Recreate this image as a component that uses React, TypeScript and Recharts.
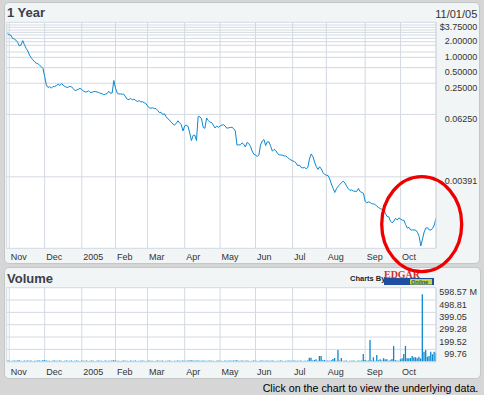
import { Bar, BarChart, CartesianGrid, Line, LineChart, XAxis, YAxis } from "recharts"

const FONT = '"Liberation Sans", Arial, sans-serif'
const GRID = "#d3d9e2"
const BLUE = "#0a88d0"
const INK = "#333"

// one close per trading day, day -1 = Oct 29 2004 ... day 253 = Nov 1 2005
const closes = [
  2.28, 2.16, 2.11, 1.83, 1.79, 1.69, 1.53, 1.31, 1.37, 1.66,
  1.39, 1.18, 1.05, 0.877, 0.775, 0.709, 0.648, 0.609, 0.596, 0.555,
  0.524, 0.482, 0.341, 0.231, 0.207, 0.215, 0.201, 0.217, 0.216, 0.226,
  0.240, 0.226, 0.247, 0.229, 0.216, 0.209, 0.209, 0.219, 0.212, 0.196,
  0.180, 0.185, 0.192, 0.199, 0.189, 0.176, 0.170, 0.170, 0.179, 0.166,
  0.167, 0.172, 0.173, 0.170, 0.165, 0.161, 0.157, 0.151, 0.153, 0.158,
  0.175, 0.160, 0.162, 0.282, 0.202, 0.162, 0.155, 0.155, 0.154, 0.153,
  0.136, 0.122, 0.121, 0.127, 0.120, 0.123, 0.116, 0.111, 0.116, 0.109,
  0.110, 0.105, 0.102, 0.0910, 0.0840, 0.0825, 0.0840, 0.0814, 0.0810, 0.0745,
  0.0679, 0.0688, 0.0621, 0.0643, 0.0565, 0.0515, 0.0486, 0.0443, 0.0409, 0.0391,
  0.0418, 0.0471, 0.0431, 0.0395, 0.0300, 0.0374, 0.0388, 0.0369, 0.0274, 0.0196,
  0.0245, 0.0249, 0.0196, 0.0565, 0.0565, 0.0513, 0.0350, 0.0338, 0.0534, 0.0478,
  0.0443, 0.0435, 0.0388, 0.0342, 0.0371, 0.0353, 0.0374, 0.0388, 0.0395, 0.0374,
  0.0338, 0.0345, 0.0350, 0.0353, 0.0335, 0.0300, 0.0161, 0.0161, 0.0162, 0.0177,
  0.0166, 0.0147, 0.0180, 0.0172, 0.0151, 0.0123, 0.0106, 0.0103, 0.00965, 0.0103,
  0.0161, 0.0192, 0.0205, 0.0157, 0.0186, 0.0184, 0.0151, 0.0122, 0.0132, 0.0126,
  0.0111, 0.0104, 0.0103, 0.0102, 0.00987, 0.00987, 0.00923, 0.00867, 0.00826, 0.00794,
  0.00773, 0.00723, 0.00638, 0.00661, 0.00594, 0.00579, 0.00592, 0.00561, 0.00592, 0.00863,
  0.0108, 0.00965, 0.00756, 0.00619, 0.00542, 0.00610, 0.00554, 0.00474, 0.00434, 0.00419,
  0.00415, 0.00355, 0.00284, 0.00233, 0.00195, 0.00230, 0.00257, 0.00276, 0.00303, 0.00322,
  0.00297, 0.00260, 0.00231, 0.00213, 0.00218, 0.00207, 0.00206, 0.00204, 0.00233, 0.00203,
  0.00195, 0.00188, 0.00131, 0.00124, 0.00128, 0.00125, 0.00118, 0.00117, 0.00114, 0.00105,
  0.000997, 0.000945, 0.000924, 0.000903, 0.000773, 0.000668, 0.000662, 0.000544, 0.000503, 0.000549,
  0.000617, 0.000574, 0.000630, 0.000600, 0.000569, 0.000567, 0.000466, 0.000399, 0.000413, 0.000368,
  0.000368, 0.000368, 0.000365, 0.000330, 0.000276, 0.000181, 0.000247, 0.000337, 0.000402, 0.000406,
  0.000368, 0.000368, 0.000394, 0.000460, 0.000619,
]

// volume in millions, same days
const volumes = [
  7, 9, 6, 8, 10, 7, 9, 11, 8, 6,
  9, 8, 10, 7, 9, 6, 8, 7, 10, 9,
  8, 11, 12, 9, 7, 8, 6, 9, 10, 7,
  8, 9, 7, 6, 8, 9, 7, 8, 10, 6,
  7, 9, 8, 6, 9, 7, 8, 10, 6, 8,
  9, 7, 6, 8, 9, 7, 8, 6, 9, 8,
  7, 8, 10, 12, 9, 7, 8, 6, 8, 9,
  7, 8, 6, 9, 7, 8, 9, 6, 8, 7,
  9, 8, 6, 7, 9, 8, 7, 6, 8, 9,
  7, 8, 9, 6, 8, 7, 9, 8, 6, 7,
  8, 9, 7, 8, 10, 8, 7, 9, 10, 11,
  9, 8, 10, 9, 8, 7, 9, 8, 7, 8,
  9, 7, 8, 6, 8, 9, 7, 8, 6, 9,
  8, 7, 9, 8, 10, 9, 11, 8, 7, 9,
  8, 7, 9, 8, 6, 8, 9, 7, 8, 6,
  9, 10, 8, 7, 9, 8, 7, 9, 8, 6,
  8, 7, 9, 8, 6, 7, 8, 9, 7, 8,
  9, 8, 7, 8, 9, 6, 8, 7, 9,
  32, 32, 10, 14, 19, 8, 46, 46, 12, 14,
  8, 10, 8, 12, 22, 30, 8, 94, 10, 30,
  8, 7, 9, 6, 8, 7, 9, 8, 6, 10,
  8, 9, 62, 14, 8, 10, 175, 10, 35, 8,
  54, 12, 19, 10, 27, 19, 19, 8, 12, 22,
  127, 12, 10, 8, 19, 27, 62, 127, 27, 27,
  30, 46, 35, 35, 27, 40, 25, 545, 81, 94,
  40, 46, 81, 60, 81, 73,
]

const monthStarts = [0, 21, 43, 63, 82, 104, 125, 146, 168, 188, 211, 232]
const monthLabels = ["Nov", "Dec", "2005", "Feb", "Mar", "Apr", "May", "Jun", "Jul", "Aug", "Sep", "Oct"]

const priceTicks = [3.75, 2, 1, 0.5, 0.25, 0.0625, 0.00390625]
const priceLabels = ["$3.75000", "2.00000", "1.00000", "0.50000", "0.25000", "0.06250", "0.00391"]
const priceGrid = [3.75, 3.33, 3.0, 2.66, 2.4, 2.13, 1.84, 1.58, 1.35, 1.0, 0.79, 0.5, 0.25, 0.0625, 0.00390625]

const volumeTicks = [0, 99.76, 199.52, 299.28, 399.05, 498.81, 598.57]
const volumeLabels = ["", "99.76", "199.52", "299.28", "399.05", "498.81", "598.57"]

const data = closes.map((close, k) => ({ day: k - 1, close, volume: volumes[k] }))
const xDomain = [-1.5, 253]
const xTicks = [-1.5, ...monthStarts, 253]

const monthTick = (dy: number) => (props: any) => {
  const i = monthStarts.indexOf(props.payload.value)
  if (i < 0) return <g />
  return (
    <text x={props.x + 1.5} y={props.y + dy} fontSize={9} fill={INK} textAnchor="start">
      {monthLabels[i]}
    </text>
  )
}

const priceTick = (props: any) => {
  const i = priceTicks.indexOf(props.payload.value)
  if (i < 0) return <g />
  return (
    <text x={477.3} y={props.y + 7.5} fontSize={9} fill={INK} textAnchor="end">
      {priceLabels[i]}
    </text>
  )
}

const volumeTick = (props: any) => {
  const i = volumeTicks.indexOf(props.payload.value)
  if (i < 1) return <g />
  return (
    <g>
      <text x={466.7} y={props.y + 7.5} fontSize={9} fill={INK} textAnchor="end">
        {volumeLabels[i]}
      </text>
      {i === volumeTicks.length - 1 && (
        <text x={469.5} y={props.y + 7.5} fontSize={9} fill={INK}>M</text>
      )}
    </g>
  )
}

const panel = { position: "absolute" as const, boxSizing: "border-box" as const, background: "#f2f5f5", border: "1px solid #c2c8c8", borderRadius: 5 }

export default function App() {
  return (
    <div style={{ position: "absolute", left: 0, top: 0, width: 484, height: 395, background: "#d6d6d6", fontFamily: FONT, overflow: "hidden" }}>
      <div style={{ ...panel, left: 4, top: 2, width: 476, height: 262 }} />
      <div style={{ ...panel, left: 4, top: 267, width: 477, height: 112 }} />

      <div style={{ position: "absolute", left: 0, top: 0 }}>
        <LineChart width={484} height={265} data={data} margin={{ top: 22.3, right: 0, bottom: 0, left: 6.7 }}>
          <CartesianGrid stroke={GRID} fill="#fff" horizontalValues={priceGrid} />
          <XAxis dataKey="day" type="number" domain={xDomain} ticks={xTicks} interval={0} allowDataOverflow
            height={16.7} tickLine={false} tickSize={0} tickMargin={0} axisLine={{ stroke: GRID }} tick={monthTick(12)} />
          <YAxis orientation="right" type="number" scale="log" domain={[0.000163, 3.75]} allowDataOverflow
            ticks={priceTicks} interval={0} width={48} tickLine={false} tickSize={0} tickMargin={0}
            axisLine={{ stroke: GRID }} tick={priceTick} />
          <Line type="linear" dataKey="close" stroke={BLUE} strokeWidth={1} dot={false} isAnimationActive={false} />
        </LineChart>
      </div>

      <div style={{ position: "absolute", left: 0, top: 265 }}>
        <BarChart width={484} height={115} data={data} barSize={1.3} margin={{ top: 22.7, right: 0, bottom: 0, left: 6.7 }}>
          <CartesianGrid stroke={GRID} fill="#fff" />
          <XAxis dataKey="day" type="number" domain={xDomain} ticks={xTicks} interval={0} allowDataOverflow
            height={18.3} tickLine={false} tickSize={0} tickMargin={0} axisLine={{ stroke: GRID }} tick={monthTick(13.3)} />
          <YAxis orientation="right" type="number" domain={[0, 598.57]} allowDataOverflow
            ticks={volumeTicks} interval={0} width={48} tickLine={false} tickSize={0} tickMargin={0}
            axisLine={{ stroke: GRID }} tick={volumeTick} />
          <Bar dataKey="volume" fill={BLUE} isAnimationActive={false} />
        </BarChart>
      </div>

      <svg width={484} height={395} style={{ position: "absolute", left: 0, top: 0, pointerEvents: "none" }}>
        <text x={7} y={16.5} fontSize={13} fontWeight="bold" fill="#3b4049">1 Year</text>
        <text x={477.3} y={18.3} fontSize={11} fill={INK} textAnchor="end">11/01/05</text>
        <text x={7} y={283} fontSize={13} fontWeight="bold" fill="#3b4049">Volume</text>
        <text x={350} y={280.5} fontSize={7.5} fontWeight="bold" fill="#222">Charts By</text>
        <rect x={384} y={278} width={50} height={7} fill="#1d4f9e" />
        <rect x={410} y={279} width={22} height={5.5} fill="#c9d43a" />
        <text x={411} y={284} fontSize={5.5} fontWeight="bold" fontStyle="italic" fill="#1d4f9e">Online</text>
        <text x={384} y={277.5} fontSize={11} fontWeight="bold" fontFamily='"Liberation Serif", "DejaVu Serif", serif'
          fill="#cc2f2f" textLength={36} lengthAdjust="spacingAndGlyphs">EDGAR</text>
        <text x={478.3} y={391.5} fontSize={10.7} fill="#000" textAnchor="end">Click on the chart to view the underlying data.</text>
        <ellipse cx={421.7} cy={224.2} rx={40} ry={47.5} fill="none" stroke="#ef0000" strokeWidth={3.3} />
      </svg>
    </div>
  )
}
